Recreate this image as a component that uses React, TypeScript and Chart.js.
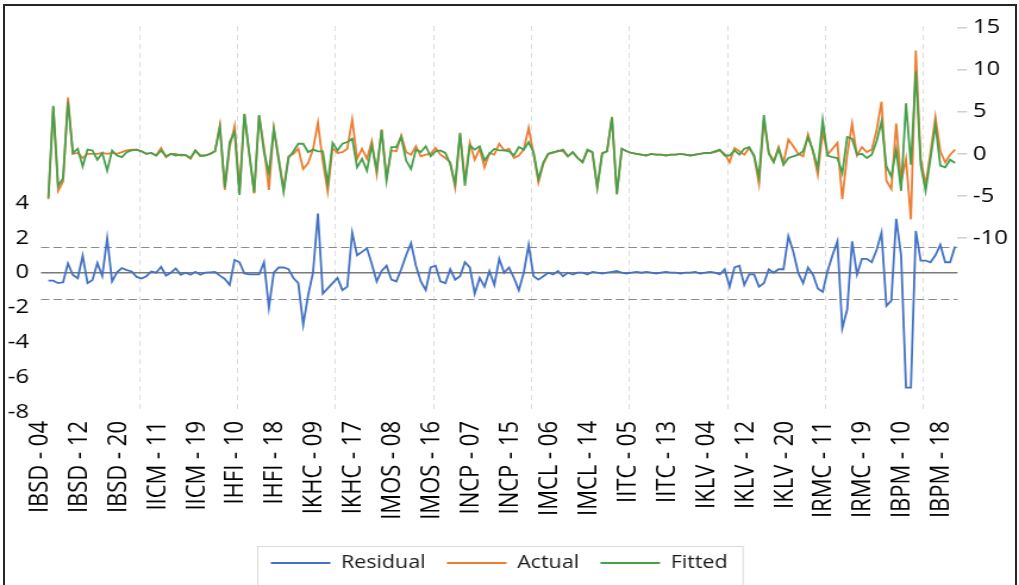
import React, { useEffect, useRef } from "react";
import { Chart, registerables } from "chart.js";

Chart.register(...registerables);

// ---------- data ----------
const companies = ["IBSD", "IICM", "IHFI", "IKHC", "IMOS", "INCP", "IMCL", "IITC", "IKLV", "IRMC", "IBPM"];
const years = ["04", "05", "06", "07", "08", "09", "10", "11", "12", "13", "14", "15", "16", "17", "18", "19", "20"];
const categories = companies.flatMap((c) => years.map((y) => `${c} - ${y}`));

const residual: (number | null)[] = [null,
  -0.46,-0.46,-0.6,-0.55,0.53,-0.13,-0.32,0.97,-0.6,-0.42,0.55,-0.19,1.98,-0.5,0.02,0.27,0.15,0.07,-0.24,-0.33,-0.2,
  0.07,0,0.34,-0.17,0,0.25,-0.12,0,-0.12,0.05,-0.12,0,0.02,0.04,-0.17,-0.36,-0.7,0.74,0.6,-0.05,-0.1,-0.1,
  -0.1,0.6,-2.0,0.0,0.3,0.3,0.2,-0.3,-0.6,-3.0,-1.3,0.0,3.4,-1.2,-0.9,-0.6,-0.3,-1.0,-0.8,2.3,
  1.0,1.2,1.4,0.5,-0.5,0.1,0.4,-0.4,-0.5,0.2,1.0,1.7,0.4,-0.5,-1.0,0.3,0.4,-0.5,-0.6,0.2,
  -0.4,-0.2,0.6,0.3,-1.2,-0.3,-0.8,0.1,-0.7,0.8,0,0.3,-0.3,-1.0,0.0,1.6,-0.2,-0.4,-0.2,0,
  -0.1,0.1,-0.2,0,-0.1,0,0,-0.1,
  0.05,0,-0.05,0,0.05,0.1,0,-0.05,0,0.05,0,0.05,0,-0.05,
  0,0.05,0,0,-0.05,0,0,0.05,-0.05,0,0.05,0,
  -0.1,0.2,-0.8,0.3,0.4,-0.7,-0.1,-0.1,-0.8,-0.6,0.2,0,0.2,0.2,2.1,1.2,0,-0.6,0.3,-0.1,
  -0.9,-1.1,0.1,1.0,1.8,-3.2,-2.1,1.8,-0.1,0.8,0.8,0.6,1.3,2.3,-1.9,-1.6,3.1,1.0,-6.6,-6.6,2.4,0.7,0.7,0.6,1.0,1.6,0.6,0.6,1.5,
];

const fitted: (number | null)[] = [null,
  -5.2,5.7,-3.85,-2.9,6.2,0.1,0.6,-1.5,0.5,0.4,-0.7,0.1,-2,0.4,-0.2,-0.4,0.2,0.4,0.5,0.3,0,
  0.1,-0.2,0.4,-0.3,0,-0.2,-0.1,-0.15,-0.5,0.4,-0.2,-0.2,0,0.3,3.2,-4.0,1.4,2.6,-4.9,4.75,0,-4.6,
  4.6,0.2,-2.3,3.0,-0.8,-4.5,-0.5,0.3,1.2,1.2,0.2,0.5,0.3,0.3,-3.6,1.3,0.4,1.2,1.4,1.8,
  -1.6,-0.6,-2.0,1.0,-1.9,2.8,-3.2,0.8,0.8,2.0,-0.8,-1.8,0.5,0.2,0.9,-0.3,0.3,0.4,0.1,-1.2,
  -3.6,2.5,-3.8,1.0,0.5,0.9,-0.8,0,0.6,0.4,0.4,0.3,-0.2,0.8,0.5,1.4,0.2,-3.0,-1.0,0,
  0.2,0.3,0.5,-0.3,0.2,-0.5,-1.0,0.5,0.2,-4.0,0.0,0.3,4.3,-4.8,0.6,0.3,
  0.1,0,-0.1,-0.2,0,-0.1,-0.1,-0.2,-0.1,-0.1,0,-0.1,-0.2,-0.1,0,0.1,
  0.1,0.3,0.5,-0.2,-0.2,0.4,-0.1,0.6,0.8,-0.2,-2.8,4.6,0.0,-1.0,0.6,-1.3,-0.5,-0.3,-0.1,0.3,2.0,0.4,
  -1.7,4.0,-0.2,-0.4,-0.5,-2.3,2.0,1.8,-0.1,0.0,-0.5,-0.1,1.5,3.85,-1.5,-2.7,0.5,-4.4,6.0,-1.3,9.8,-1.3,-4.4,-0.5,3.45,-1.4,-1.6,-0.7,-1.1,
];

const actual: (number | null)[] = [null,
  -5.4,5.5,-4.4,-3.3,6.7,0,0.1,-0.5,0,0,0,0.1,0,0.1,0,0.2,0.4,0.5,0.5,0.3,0,
  0.1,-0.2,0.7,-0.4,0,0,-0.2,-0.15,-0.6,0.4,-0.3,-0.2,0,0.3,3.4,-4.3,0.8,3.3,-4.4,4.7,-0.1,-4.7,
  4.5,0.8,-4.3,3.0,-0.5,-4.2,-0.3,0,0.6,-1.8,-1.1,0.5,3.7,-0.9,-4.5,0.7,0.1,0.2,0.6,4.1,
  -0.6,0.6,-0.6,1.5,-2.4,2.9,-2.8,0.4,0.3,2.2,0.2,-0.1,0.9,-0.3,-0.1,0,0.7,-0.1,-0.5,-1.0,
  -4.0,2.3,-3.2,1.3,-0.7,0.6,-1.6,0.1,-0.1,1.2,0.4,0.6,-0.5,-0.2,0.5,3.1,0,-3.4,-1.2,0,
  0.1,0.4,0.3,-0.3,0.2,-0.5,-1.0,0.4,0.2,-4.0,0.1,0.3,4.4,-4.8,0.6,0.3,
  0.1,0,-0.1,-0.2,0,-0.1,-0.1,-0.2,-0.1,-0.1,0,-0.1,-0.2,-0.1,0,0.1,
  0.1,0.2,0.4,0,-1.0,0.7,0.3,-0.1,0.7,-0.3,-3.6,4.0,0.2,-0.9,0.8,-1.1,1.7,0.9,0.0,-0.3,2.3,0.3,
  -2.5,2.7,-0.1,0.6,1.3,-5.4,-0.1,3.6,-0.2,0.8,0.2,0.5,2.8,6.2,-3.2,-4.2,3.6,-3.4,-0.6,-7.8,12.3,-0.6,-3.7,0.1,4.4,0.3,-1.0,-0.1,0.5,
];

const residualTicks = [-8, -6, -4, -2, 0, 2, 4];
const valueTicks = [-10, -5, 0, 5, 10, 15];
const seBand = 1.5;
const labelEvery = 8;
const gridEvery = 20;

// ---------- layout constants ----------
const W = 856;
const H = 585;
const SX = 1019 / W;
const FONT = "'Open Sans', 'DejaVu Sans', sans-serif";

const refLines = {
  id: "refLines",
  beforeDatasetsDraw(chart: any) {
    const { ctx, chartArea, scales } = chart;
    const x = scales.x;
    const yL = scales.yL;
    ctx.save();
    ctx.strokeStyle = "#dcdcdc";
    ctx.lineWidth = 1;
    ctx.setLineDash([5, 4]);
    for (let c = gridEvery; c < categories.length; c += gridEvery) {
      const px = Math.round(x.getPixelForValue(c - 0.5)) + 0.5;
      ctx.beginPath();
      ctx.moveTo(px, 26);
      ctx.lineTo(px, chartArea.bottom + 1);
      ctx.stroke();
    }
    ctx.strokeStyle = "#8a8a8a";
    ctx.lineWidth = 1.2;
    ctx.setLineDash([7, 3.5]);
    [seBand, -seBand].forEach((v) => {
      const py = Math.round(yL.getPixelForValue(v)) + 0.5;
      ctx.beginPath();
      ctx.moveTo(chartArea.left, py);
      ctx.lineTo(chartArea.right, py);
      ctx.stroke();
    });
    ctx.setLineDash([]);
    ctx.strokeStyle = "#7a7a7a";
    ctx.lineWidth = 1.5;
    const pz = yL.getPixelForValue(0);
    ctx.beginPath();
    ctx.moveTo(chartArea.left, pz);
    ctx.lineTo(chartArea.right, pz);
    ctx.stroke();
    ctx.restore();
  },
  afterDraw(chart: any) {
    const lg = chart.legend;
    if (!lg || !lg.legendHitBoxes || !lg.legendHitBoxes.length) return;
    const hb = lg.legendHitBoxes;
    const first = hb[0];
    const last = hb[hb.length - 1];
    const l = first.left - 12;
    const r = last.left + last.width + 12;
    const top = first.top + first.height / 2 - 17;
    const { ctx } = chart;
    ctx.save();
    ctx.strokeStyle = "#d9d9d9";
    ctx.lineWidth = 1;
    ctx.strokeRect(Math.round(l) + 0.5, Math.round(top) + 0.5, r - l, 100);
    ctx.restore();
  },
};

export default function App() {
  const ref = useRef<HTMLCanvasElement | null>(null);

  useEffect(() => {
    document.body.style.margin = "0";
    document.body.style.overflow = "hidden";
    const canvas = ref.current;
    if (!canvas) return;
    const chart = new Chart(canvas, {
      type: "line",
      data: {
        labels: categories,
        datasets: [
          { label: "Residual", data: residual, yAxisID: "yL", borderColor: "#4472C4", backgroundColor: "#4472C4", borderWidth: 1.8, pointRadius: 0, tension: 0, order: 0 },
          { label: "Actual", data: actual, yAxisID: "yR", borderColor: "#ED7D31", backgroundColor: "#ED7D31", borderWidth: 1.8, pointRadius: 0, tension: 0, order: 2 },
          { label: "Fitted", data: fitted, yAxisID: "yR", borderColor: "#46A04B", backgroundColor: "#46A04B", borderWidth: 1.8, pointRadius: 0, tension: 0, order: 1 },
        ],
      },
      options: {
        animation: false,
        responsive: false,
        devicePixelRatio: 1,
        layout: { padding: { top: 20, bottom: 3, left: 0, right: 0 } },
        plugins: {
          tooltip: { enabled: false },
          legend: {
            position: "bottom",
            fullSize: false,
            labels: {
              usePointStyle: true,
              pointStyle: "line",
              pointStyleWidth: 50,
              padding: 18,
              color: "#1a1a1a",
              font: { family: FONT, size: 18 },
              sort: (a: any, b: any) => a.datasetIndex - b.datasetIndex,
            },
          },
        },
        scales: {
          x: {
            type: "category",
            offset: true,
            grid: { display: false, drawTicks: false },
            border: { display: false },
            ticks: {
              autoSkip: false,
              minRotation: 90,
              maxRotation: 90,
              padding: 9,
              labelOffset: -3,
              color: "#000",
              font: { family: FONT, size: 22 },
              callback: (_v: any, i: number) => (i % labelEvery === 0 ? categories[i] : ""),
            },
            afterFit: (s: any) => {
              s.height = 124;
            },
          },
          yL: {
            type: "linear",
            position: "left",
            min: -8,
            max: 14.4,
            bounds: "data",
            afterBuildTicks: (s: any) => {
              s.ticks = residualTicks.map((v) => ({ value: v }));
            },
            grid: { display: false, drawTicks: false },
            border: { display: false },
            ticks: { padding: 10, color: "#000", font: { family: FONT, size: 20 } },
            afterFit: (s: any) => {
              s.width = 34.44;
            },
          },
          yR: {
            type: "linear",
            position: "right",
            min: -30.71,
            max: 15.68,
            bounds: "data",
            afterBuildTicks: (s: any) => {
              s.ticks = valueTicks.map((v) => ({ value: v }));
            },
            grid: { drawOnChartArea: false, drawTicks: true, tickLength: 8, color: "#d0d0d0", lineWidth: 1.5 },
            border: { display: false },
            ticks: { padding: 5, color: "#000", font: { family: FONT, size: 20 } },
            afterFit: (s: any) => {
              s.width = 51.7;
            },
          },
        },
      },
      plugins: [refLines],
    });
    return () => chart.destroy();
  }, []);

  return (
    <div style={{ position: "fixed", left: 0, top: 0, width: 1019, height: 585, overflow: "hidden", background: "#fff" }}>
      <div style={{ position: "absolute", left: 0, top: 0, width: W, height: H, transform: `scaleX(${SX})`, transformOrigin: "0 0" }}>
        <canvas ref={ref} width={W} height={H} />
      </div>
      <div
        style={{
          position: "absolute",
          left: 3,
          top: 4,
          width: 1014,
          height: 620,
          border: "2.5px solid #262626",
          boxSizing: "border-box",
          pointerEvents: "none",
        }}
      />
    </div>
  );
}
